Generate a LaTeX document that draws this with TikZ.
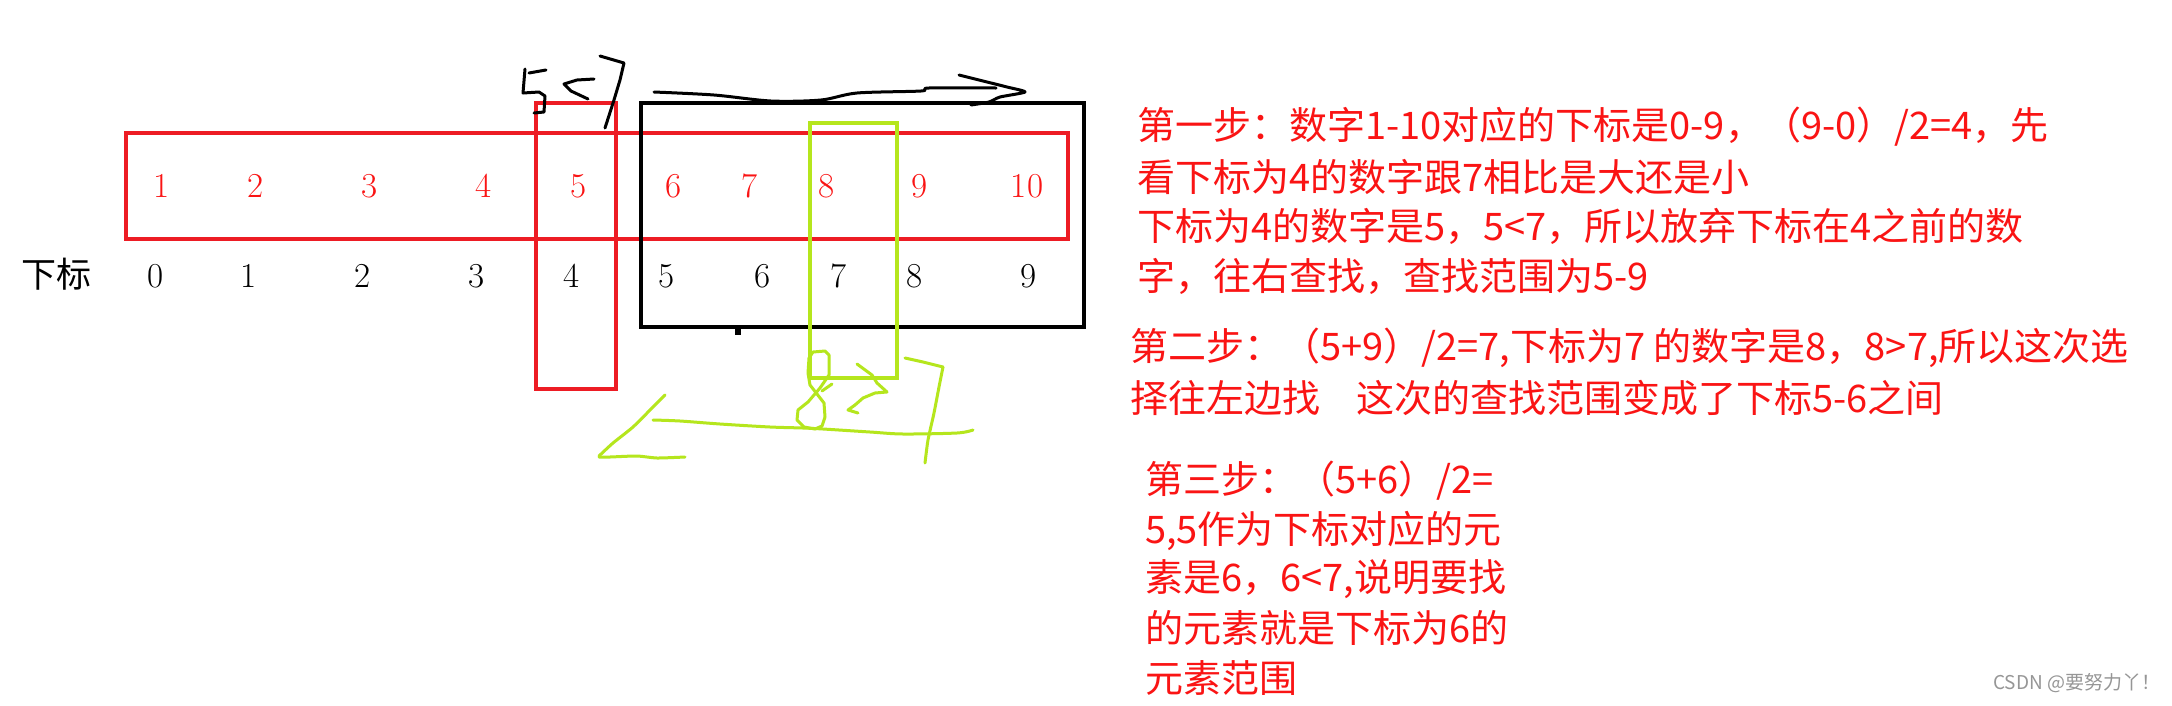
\documentclass[tikz,border=0pt]{standalone}
\usepackage{fontspec}
\newfontfamily\cjk{Noto Sans CJK SC}
\newfontfamily\cjkw{Noto Sans CJK SC}
\definecolor{pred}{RGB}{237,28,36}
\definecolor{plime}{RGB}{181,230,29}
\definecolor{tred}{RGB}{250,20,20}
\definecolor{wmark}{RGB}{150,150,150}
\tikzset{
  redbox/.style={draw=pred,line width=4pt},
  blackbox/.style={draw=black,line width=4pt},
  greenbox/.style={draw=plime,line width=4pt},
  rnum/.style={text=tred,inner sep=0pt,font=\fontsize{35}{35}\selectfont},
  bnum/.style={text=black,inner sep=0pt,font=\fontsize{35}{35}\selectfont},
  note/.style={text=tred,inner sep=0pt,anchor=west,font=\cjk\fontsize{38}{38}\selectfont},
  inkb/.style={draw=black,line width=3pt,line cap=round,line join=round},
  inkg/.style={draw=plime,line width=3pt,line cap=round,line join=round},
}
\begin{document}
\begin{tikzpicture}[x=1pt,y=-1pt]
\useasboundingbox[fill=white] (0,0) rectangle (2172,705);
% boxes
\draw[redbox] (126,133) rectangle (1068,239);
\draw[redbox] (536,103) rectangle (616,389);
\draw[blackbox] (641,103) rectangle (1084,327);
\draw[black,line width=6pt] (738,327) -- (738,335);
\draw[greenbox] (810,123) rectangle (897,378);
% values
\node[rnum] (v1) at (162,186) {1};
\node[rnum] (v2) at (256,186) {2};
\node[rnum] (v3) at (370,186) {3};
\node[rnum] (v4) at (484,186) {4};
\node[rnum] (v5) at (579,186) {5};
\node[rnum] (v6) at (674,186) {6};
\node[rnum] (v7) at (750,186) {7};
\node[rnum] (v8) at (827,186) {8};
\node[rnum] (v9) at (920,186) {9};
\node[rnum] (v10) at (1027,186) {10};
% indices
\node[bnum,font=\cjkw\fontsize{35}{35}\selectfont] (lbl) at (56,274) {下标};
\node[bnum] (i0) at (156,276) {0};
\node[bnum] (i1) at (249,276) {1};
\node[bnum] (i2) at (363,276) {2};
\node[bnum] (i3) at (477,276) {3};
\node[bnum] (i4) at (572,276) {4};
\node[bnum] (i5) at (667,276) {5};
\node[bnum] (i6) at (763,276) {6};
\node[bnum] (i7) at (839,276) {7};
\node[bnum] (i8) at (915,276) {8};
\node[bnum] (i9) at (1029,276) {9};
% black handwriting: 5<7 and arrow
\draw[inkb] (546,70) -- (529,73);
\draw[inkb] (525,69) -- (523,93) -- (539,92) -- (545,96) -- (544,112) -- (534,113);
\draw[inkb] (594,79) -- (577,80) -- (564,84) -- (571,91) -- (588,99);
\draw[inkb] (600,56) -- (624,63) -- (620,80) -- (614,100) -- (605,128);
\draw[inkb] plot[smooth,tension=0.5] coordinates {(654,92) (714,95) (771,101) (821,100) (857,93) (921,91) (929,88) (996,88)};
\draw[inkb] plot[smooth,tension=0.4] coordinates {(959,75) (979,80) (1007,87) (1025,92) (1000,97) (989,102) (971,105)};
% green handwriting: <---8>7
\draw[inkg] plot[smooth,tension=0.4] coordinates {(665,395) (653,407) (633,427) (613,443) (599,456)};
\draw[inkg] plot[smooth,tension=0.4] coordinates {(599,457) (610,457) (637,456) (657,458) (685,457)};
\draw[inkg] plot[smooth,tension=0.5] coordinates {(653,420) (680,421) (720,424) (770,427) (803,428) (823,429) (870,432) (903,434) (957,433) (973,430)};
\draw[inkg] (813,352) -- (825,351) -- (829,355) -- (829,375) -- (820,388) -- (808,402) -- (798,410) -- (797,420) -- (804,427) -- (815,429) -- (822,426) -- (825,417) -- (824,403) -- (817,394) -- (810,385) -- (808,373) -- (809,358) -- cycle;
\draw[inkg] (832,384) -- (822,391);
\draw[inkg] (857,364) -- (872,375) -- (877,383) -- (887,392) -- (875,393) -- (863,398) -- (855,405) -- (848,410) -- (858,413);
\draw[inkg] (905,358) -- (923,362) -- (943,367);
\draw[inkg] plot[smooth,tension=0.4] coordinates {(943,367) (939,387) (934,413) (928,440) (925,463)};
% explanation text
\node[note] (s1a) at (1137,127) {第一步：数字1-10对应的下标是0-9，（9-0）/2=4，先};
\node[note] (s1b) at (1137,177) {看下标为4的数字跟7相比是大还是小};
\node[note] (s1c) at (1137,226) {下标为4的数字是5，5<7，所以放弃下标在4之前的数};
\node[note] (s1d) at (1137,276) {字，往右查找，查找范围为5-9};
\node[note] (s2a) at (1130,348) {第二步：（5+9）/2=7,下标为7 的数字是8，8>7,所以这次选};
\node[note] (s2b) at (1130,398) {择往左边找\hspace{36pt}这次的查找范围变成了下标5-6之间};
\node[note] (s3a) at (1145,481) {第三步：（5+6）/2=};
\node[note] (s3b) at (1145,531) {5,5作为下标对应的元};
\node[note] (s3c) at (1145,579) {素是6，6<7,说明要找};
\node[note] (s3d) at (1145,628) {的元素就是下标为6的};
\node[note] (s3e) at (1145,678) {元素范围};
\node[inner sep=0pt,anchor=west,text=wmark,font=\cjkw\fontsize{19}{19}\selectfont] (wm) at (1993,683) {CSDN @要努力丫！};
\end{tikzpicture}
\end{document}
